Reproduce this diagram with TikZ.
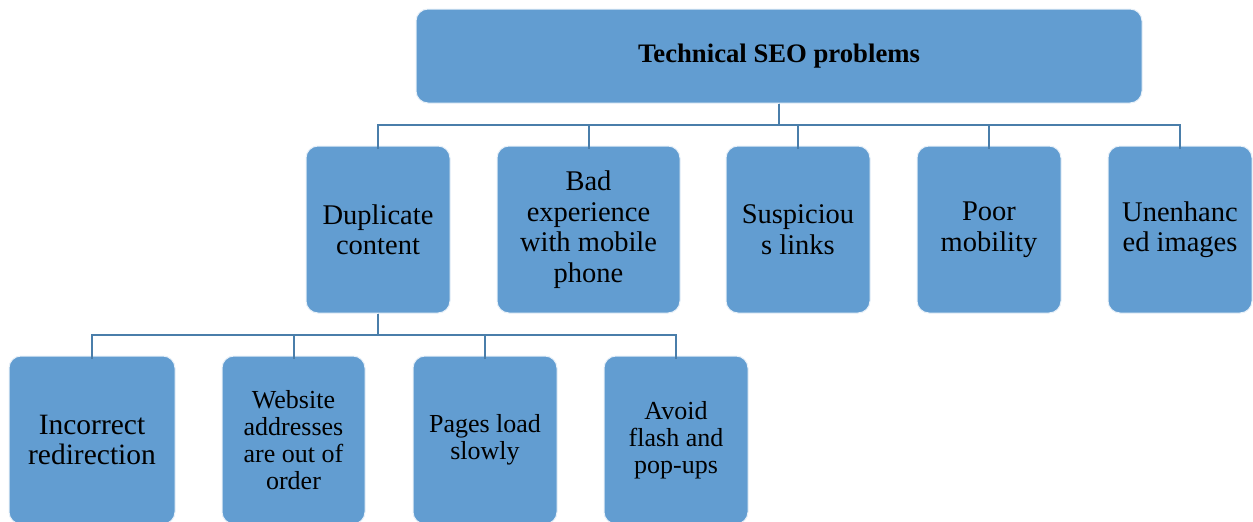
\documentclass[tikz,border=0pt]{standalone}
\usepackage{fontspec}
\setmainfont{Liberation Serif}
\definecolor{boxfill}{RGB}{98,157,209}
\definecolor{linkcol}{RGB}{74,126,170}
\tikzset{
  box/.style={draw=white!85!boxfill, line width=1pt, fill=boxfill, rounded corners=12pt,
    inner sep=0pt, align=center, text=black},
  rowtwo/.style={box, minimum height=167pt, font=\fontsize{28.5}{30.5}\selectfont},
  rowthree/.style={box, minimum height=168pt, font=\fontsize{26}{27}\selectfont},
  link/.style={draw=linkcol, line width=2pt}
}
\begin{document}
\begin{tikzpicture}[x=1pt,y=-1pt]
\useasboundingbox (0,0) rectangle (1253,522);
\node[box, minimum width=726pt, minimum height=94pt, font=\fontsize{26.7}{30}\selectfont\bfseries] (top) at (779,56) {Technical SEO problems};
\node[rowtwo, minimum width=144pt] (dup) at (378,229.5) {Duplicate\\content};
\node[rowtwo, minimum width=183pt] (bad) at (588.5,229.5) {Bad\\experience\\with mobile\\phone};
\node[rowtwo, minimum width=144pt] (sus) at (798,229.5) {Suspiciou\\s links};
\node[rowtwo, minimum width=144pt] (poor) at (989,229.5) {Poor\\mobility};
\node[rowtwo, minimum width=144pt] (unen) at (1180,229.5) {Unenhanc\\ed images};
\node[rowthree, minimum width=166pt, font=\fontsize{29.5}{30}\selectfont] (inc) at (92,440) {Incorrect\\redirection};
\node[rowthree, minimum width=143pt] (web) at (293.5,440) {Website\\addresses\\are out of\\order};
\node[rowthree, minimum width=144pt] (pag) at (485,440) {Pages load\\slowly};
\node[rowthree, minimum width=144pt] (avo) at (676,440) {Avoid\\flash and\\pop-ups};
\coordinate (b1) at (779,125);
\coordinate (b2) at (378,335);
\foreach \n in {dup,bad,sus,poor,unen}{
  \draw[link] (top.south) -- (b1) -| ([yshift=-3pt]\n.north);
}
\foreach \n in {inc,web,pag,avo}{
  \draw[link] (dup.south) -- (b2) -| ([yshift=-3pt]\n.north);
}
\end{tikzpicture}
\end{document}
